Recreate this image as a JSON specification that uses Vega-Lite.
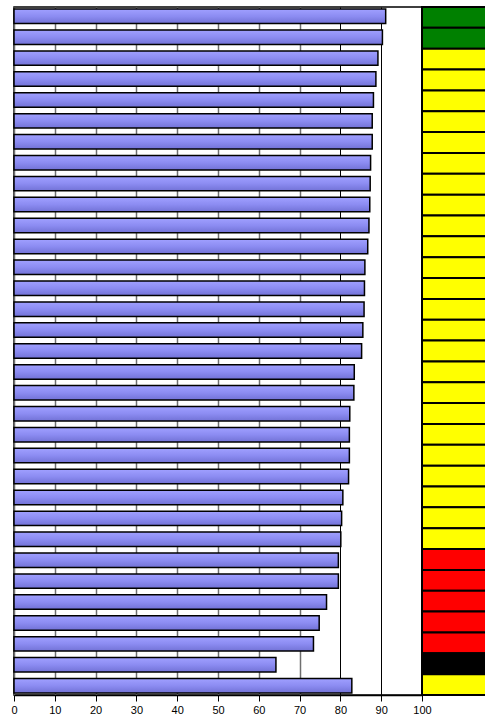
{
  "$schema": "https://vega.github.io/schema/vega-lite/v6.json",
  "padding": {"left": 10, "top": 5, "right": 0, "bottom": 0},
  "background": "white",
  "spacing": 0,
  "bounds": "flush",
  "config": {
    "view": {"stroke": "black", "strokeWidth": 1.5},
    "font": "Liberation Sans"
  },
  "data": {
    "values": [
      {"row": 1, "value": 91.1, "status": "green"},
      {"row": 2, "value": 90.3, "status": "green"},
      {"row": 3, "value": 89.2, "status": "yellow"},
      {"row": 4, "value": 88.7, "status": "yellow"},
      {"row": 5, "value": 88.1, "status": "yellow"},
      {"row": 6, "value": 87.8, "status": "yellow"},
      {"row": 7, "value": 87.8, "status": "yellow"},
      {"row": 8, "value": 87.4, "status": "yellow"},
      {"row": 9, "value": 87.3, "status": "yellow"},
      {"row": 10, "value": 87.2, "status": "yellow"},
      {"row": 11, "value": 87.0, "status": "yellow"},
      {"row": 12, "value": 86.7, "status": "yellow"},
      {"row": 13, "value": 86.0, "status": "yellow"},
      {"row": 14, "value": 85.9, "status": "yellow"},
      {"row": 15, "value": 85.8, "status": "yellow"},
      {"row": 16, "value": 85.5, "status": "yellow"},
      {"row": 17, "value": 85.2, "status": "yellow"},
      {"row": 18, "value": 83.4, "status": "yellow"},
      {"row": 19, "value": 83.3, "status": "yellow"},
      {"row": 20, "value": 82.3, "status": "yellow"},
      {"row": 21, "value": 82.2, "status": "yellow"},
      {"row": 22, "value": 82.2, "status": "yellow"},
      {"row": 23, "value": 82.0, "status": "yellow"},
      {"row": 24, "value": 80.6, "status": "yellow"},
      {"row": 25, "value": 80.3, "status": "yellow"},
      {"row": 26, "value": 80.1, "status": "yellow"},
      {"row": 27, "value": 79.5, "status": "red"},
      {"row": 28, "value": 79.5, "status": "red"},
      {"row": 29, "value": 76.6, "status": "red"},
      {"row": 30, "value": 74.8, "status": "red"},
      {"row": 31, "value": 73.4, "status": "red"},
      {"row": 32, "value": 64.2, "status": "black"},
      {"row": 33, "value": 82.8, "status": "yellow"}
    ]
  },
  "hconcat": [
    {
      "width": 408,
      "height": 688,
      "mark": {
        "type": "bar",
        "stroke": "black",
        "strokeWidth": 1.5,
        "color": {
          "gradient": "linear",
          "x1": 0, "y1": 0, "x2": 0, "y2": 1,
          "stops": [
            {"offset": 0, "color": "#a0a0ff"},
            {"offset": 0.5, "color": "#8c8cf2"},
            {"offset": 1, "color": "#7272d6"}
          ]
        }
      },
      "encoding": {
        "y": {
          "field": "row",
          "type": "ordinal",
          "axis": null,
          "scale": {"paddingInner": 0.31, "paddingOuter": 0.1}
        },
        "x": {
          "field": "value",
          "type": "quantitative",
          "scale": {"domain": [0, 100], "nice": false},
          "axis": {
            "title": null,
            "values": [0, 10, 20, 30, 40, 50, 60, 70, 80, 90, 100],
            "grid": true,
            "gridColor": {"condition": {"test": "datum.value >= 80", "value": "black"}, "value": "#6f6f6f"},
            "gridWidth": {"condition": {"test": "datum.value >= 80", "value": 1}, "value": 1.5},
            "domainColor": "black",
            "domainWidth": 1.5,
            "tickColor": "black",
            "tickSize": 6,
            "labelColor": "black",
            "labelFontSize": 11,
            "labelPadding": 3,
            "labelFlush": false
          }
        }
      }
    },
    {
      "width": 72,
      "height": 688,
      "mark": {"type": "rect", "stroke": "black", "strokeWidth": 2},
      "encoding": {
        "y": {"field": "row", "type": "ordinal", "axis": null},
        "color": {
          "field": "status",
          "type": "nominal",
          "legend": null,
          "scale": {
            "domain": ["green", "yellow", "red", "black"],
            "range": ["#008000", "#ffff00", "#ff0000", "#000000"]
          }
        }
      }
    }
  ],
  "resolve": {"scale": {"y": "independent"}}
}
